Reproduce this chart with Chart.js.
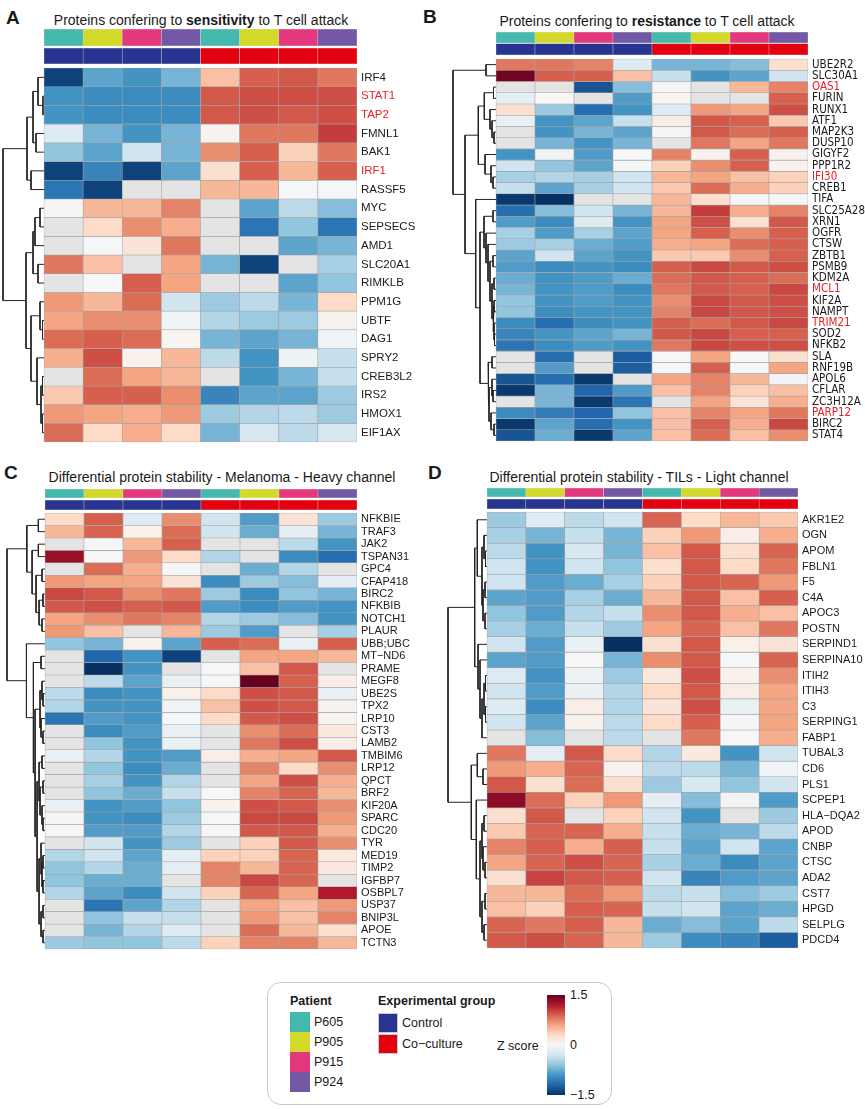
<!DOCTYPE html>
<html>
<head>
<meta charset="utf-8">
<script src="https://cdn.jsdelivr.net/npm/chart.js@4.4.0/dist/chart.umd.min.js"></script>
<style>
  body { margin: 0; width: 865px; height: 1109px; position: relative; overflow: hidden; background: #fff;
         font-family: "Liberation Sans", Arial, sans-serif; color: #1a1a1a; }
  canvas { position: absolute; }
  .letter { position: absolute; font-weight: bold; font-size: 19px; line-height: 1; }
  .title { position: absolute; font-size: 14px; white-space: nowrap; transform: translate(-50%, -50%); }
  #legend { position: absolute; left: 267px; top: 982px; width: 345px; height: 123px;
            border: 1px solid #c8c8c8; border-radius: 14px; box-sizing: border-box; }
  .lg { position: absolute; font-size: 12.5px; white-space: nowrap; line-height: 1; }
  .lg b { font-weight: bold; }
  .sw { position: absolute; width: 20px; height: 20px; box-sizing: border-box; }
</style>
</head>
<body>

<div class="letter" style="left:6px;top:8px">A</div>
<div class="letter" style="left:423px;top:7px">B</div>
<div class="letter" style="left:4px;top:463px">C</div>
<div class="letter" style="left:428px;top:463px">D</div>

<div class="title" style="left:201px;top:20px">Proteins confering to <b>sensitivity</b> to T cell attack</div>
<div class="title" style="left:647px;top:21px">Proteins confering to <b>resistance</b> to T cell attack</div>
<div class="title" style="left:222px;top:477px">Differential protein stability - Melanoma - Heavy channel</div>
<div class="title" style="left:639px;top:477px">Differential protein stability - TILs - Light channel</div>

<canvas id="chartA"></canvas>
<canvas id="chartB"></canvas>
<canvas id="chartC"></canvas>
<canvas id="chartD"></canvas>

<div id="legend"></div>

<script>
// column annotation
const patients = ['P605', 'P905', 'P915', 'P924', 'P605', 'P905', 'P915', 'P924'];
const groups = ['Control', 'Control', 'Control', 'Control', 'Co-culture', 'Co-culture', 'Co-culture', 'Co-culture'];
const patientNames = ['P605', 'P905', 'P915', 'P924'];
const groupNames = ['Control', 'Co-culture'];
const zTicks = [1.5, 0, -1.5];

// A - sensitivity
const genesA = ['IRF4', 'STAT1', 'TAP2', 'FMNL1', 'BAK1', 'IRF1', 'RASSF5', 'MYC', 'SEPSECS', 'AMD1',
  'SLC20A1', 'RIMKLB', 'PPM1G', 'UBTF', 'DAG1', 'SPRY2', 'CREB3L2', 'IRS2', 'HMOX1', 'EIF1AX'];
const redA = ['STAT1', 'TAP2', 'IRF1'];
const zA = [
  [-1.4, -0.8, -0.9, -0.7, 0.45, 0.9, 0.93, 0.8],
  [-0.9, -0.95, -0.95, -0.95, 0.93, 0.97, 0.97, 0.97],
  [-0.9, -0.95, -0.95, -0.95, 0.93, 0.97, 0.93, 0.97],
  [-0.2, -0.7, -0.9, -0.7, 0.05, 0.8, 0.8, 1.05],
  [-0.6, -0.8, -0.3, -0.7, 0.7, 0.9, 0.35, 0.8],
  [-1.4, -1.0, -1.4, -0.8, 0.25, 0.9, 0.5, 0.9],
  [-1.1, -1.4, null, null, 0.5, 0.5, -0.02, -0.02],
  [0.02, 0.5, 0.5, 0.75, null, -0.8, -0.4, -0.65],
  [null, 0.3, 0.7, 0.55, null, -1.1, -0.6, -1.1],
  [null, -0.02, 0.2, 0.8, null, null, -0.8, -0.7],
  [0.8, 0.45, null, 0.6, -0.7, -1.4, null, -0.5],
  [null, 0.0, 0.9, 0.6, null, null, -0.8, -0.6],
  [0.65, 0.5, 0.85, -0.3, -0.55, -0.4, -0.7, 0.3],
  [0.6, 0.7, 0.7, -0.05, -0.45, -0.55, -0.55, 0.05],
  [0.85, 0.9, 0.85, 0.03, -0.7, -0.8, -0.7, -0.05],
  [0.55, 0.97, 0.05, 0.5, -0.4, -0.9, -0.08, -0.35],
  [null, 0.85, 0.6, 0.5, null, -0.9, -0.7, -0.35],
  [0.4, 0.9, 0.9, 0.7, -1.0, -0.8, -0.8, -0.55],
  [0.65, 0.6, 0.55, 0.65, -0.55, -0.45, -0.4, -0.55],
  [0.85, 0.3, 0.55, 0.3, -0.7, -0.25, -0.4, -0.25]
];
// [height, left, right], leaves are row indexes
const treeA = [41, [17, [11, [6, 0, [1, 1, 2]], [8, 3, 4]], [13, 5, 6]],
  [18, [11, [9, [4, 7, 8], 9], [6, 10, 11]],
       [13, [4, 12, [1.5, 13, 14]], [7, 15, [3, [1.5, 16, 17], [1.5, 18, 19]]]]]];

// B - resistance
const genesB = ['UBE2R2', 'SLC30A1', 'OAS1', 'FURIN', 'RUNX1', 'ATF1', 'MAP2K3', 'DUSP10', 'GIGYF2', 'PPP1R2',
  'IFI30', 'CREB1', 'TIFA', 'SLC25A28', 'XRN1', 'OGFR', 'CTSW', 'ZBTB1', 'PSMB9', 'KDM2A', 'MCL1', 'KIF2A',
  'NAMPT', 'TRIM21', 'SOD2', 'NFKB2', 'SLA', 'RNF19B', 'APOL6', 'CFLAR', 'ZC3H12A', 'PARP12', 'BIRC2', 'STAT4'];
const redB = ['OAS1', 'IFI30', 'MCL1', 'TRIM21', 'PARP12'];
const zB = [
  [0.8, 0.8, 0.75, -0.2, -0.7, -0.7, -0.65, 0.25],
  [1.45, 0.9, 0.9, 0.45, -0.35, -0.9, -0.8, -0.3],
  [null, null, -1.3, -0.65, 0.02, null, 0.5, 0.75],
  [-0.15, 0.0, null, -0.85, 0.03, null, null, 0.9],
  [0.25, -0.55, -1.15, -0.9, -0.2, 0.65, 0.6, 0.97],
  [-0.12, -0.9, -0.8, -0.35, 0.1, 0.93, 0.9, 0.4],
  [null, -0.9, -0.7, -0.8, 0.02, 0.93, 0.85, 0.9],
  [null, -0.7, -0.9, -0.7, null, 0.8, 0.6, 0.8],
  [-0.9, -0.05, -0.85, -0.02, 0.75, 0.05, 0.9, 0.05],
  [-0.3, -0.6, -0.8, -0.02, 0.35, 0.7, 0.9, 0.05],
  [-0.5, -0.45, -0.5, -0.3, 0.5, 0.6, 0.45, 0.35],
  [-0.35, -0.8, -0.5, -0.3, 0.4, 0.85, 0.55, 0.35],
  [-1.45, -1.5, null, null, 0.5, 0.25, -0.02, -0.02],
  [-1.15, -0.65, -0.3, -0.7, 0.5, 1.05, 0.55, 0.75],
  [-0.85, -0.95, -0.2, -0.9, 0.6, 0.97, 0.25, 0.93],
  [-0.5, -0.85, -0.5, -0.8, 0.6, 0.9, 0.7, 0.9],
  [-0.55, -0.5, -0.75, -0.85, 0.55, 0.6, 0.85, 0.9],
  [-0.8, -0.3, -0.8, -0.9, 0.4, 0.4, 0.7, 0.9],
  [-0.85, -0.95, -0.9, -0.95, 0.9, 1.0, 0.93, 0.97],
  [-0.75, -0.9, -0.85, -0.75, 0.85, 0.93, 0.9, 0.85],
  [-0.7, -0.9, -0.85, -0.95, 0.8, 0.93, 0.9, 1.0],
  [-0.6, -0.9, -0.85, -0.9, 0.7, 1.0, 0.93, 0.97],
  [-0.6, -0.95, -0.9, -0.9, 0.75, 1.0, 0.93, 0.97],
  [-0.95, -1.15, -0.95, -0.9, 0.9, 0.85, 0.93, 1.0],
  [-1.0, -0.9, -0.8, -0.7, 0.93, 1.0, 0.9, 0.9],
  [-1.1, -0.95, -0.85, -0.9, 0.8, 1.0, 0.97, 0.97],
  [null, -1.15, null, -1.25, -0.02, 0.6, -0.02, 0.25],
  [null, -0.85, null, -1.25, -0.02, 0.9, -0.02, 0.6],
  [-1.3, -1.15, -1.45, null, 0.6, 0.75, 0.5, -0.05],
  [-1.45, -0.7, -1.2, -0.85, 0.45, 0.75, 0.35, 0.45],
  [null, -0.7, -1.45, -1.1, null, 0.6, 0.2, 0.55],
  [-0.95, -1.05, -1.2, -0.6, 0.45, 0.75, 0.6, 0.8],
  [-1.45, -0.8, -1.15, -0.9, 0.45, 0.9, 0.55, 1.0],
  [-1.3, -0.75, -1.45, -0.8, 0.45, 0.85, 0.45, 0.7]
];
const treeB = [43, [10, 0, 1],
  [31, [17.7, [11.7, [2.5, 2, 3], [6, 4, [4, 5, [2, 6, 7]]]], [11, 8, [5, 9, [3, 10, 11]]]],
       [20.3, 12, [16, [12, [3, 13, 14], [10, 15, [8, 16, [6, [3, 17, 18],
                                [4, [2, 19, 20], [3, [2, 21, 22], [2, 23, [1.5, 24, 25]]]]]]]],
                        [8, [4, 26, 27], [7, [4, 28, [3, 29, 30]], [5, 31, [2, 32, 33]]]]]]]];

// C - melanoma heavy channel
const genesC = ['NFKBIE', 'TRAF3', 'JAK2', 'TSPAN31', 'GPC4', 'CFAP418', 'BIRC2', 'NFKBIB', 'NOTCH1', 'PLAUR',
  'UBB;UBC', 'MT\u2212ND6', 'PRAME', 'MEGF8', 'UBE2S', 'TPX2', 'LRP10', 'CST3', 'LAMB2', 'TMBIM6', 'LRP12',
  'QPCT', 'BRF2', 'KIF20A', 'SPARC', 'CDC20', 'TYR', 'MED19', 'TIMP2', 'IGFBP7', 'OSBPL7', 'USP37', 'BNIP3L',
  'APOE', 'TCTN3'];
const redC = [];
const zC = [
  [0.3, 0.9, -0.2, 0.7, -0.3, -0.85, 0.2, -0.55],
  [0.5, 0.88, 0.08, 0.85, -0.3, -0.75, -0.15, -0.7],
  [null, -0.02, 0.5, 0.9, null, null, -0.4, -0.9],
  [1.3, 0.0, 0.65, 0.3, -0.45, null, -0.95, -1.15],
  [null, 0.85, 0.55, -0.02, null, -0.75, -0.45, null],
  [0.65, 0.6, 0.6, 0.2, -0.95, -0.55, -0.65, -0.15],
  [1.0, 0.93, 0.7, 0.8, -0.55, -0.95, -0.6, -0.7],
  [0.93, 0.97, 0.9, 0.93, -0.85, -0.95, -0.85, -0.9],
  [0.6, 0.7, 0.8, 0.75, -0.45, -0.55, -0.65, -0.9],
  [0.65, 0.45, null, 0.5, -0.55, -0.85, null, -0.5],
  [-0.6, -0.7, 0.05, -0.8, 0.9, 0.85, -0.1, 0.9],
  [null, -1.2, -0.9, -1.4, null, 0.6, 0.6, 0.5],
  [null, -1.5, -0.9, null, -0.02, 0.45, 0.93, null],
  [null, -0.4, -0.8, -0.1, -0.02, 1.5, 0.9, 0.1],
  [-0.4, -0.95, -0.9, 0.08, 0.3, 0.97, 0.93, -0.1],
  [-0.45, -0.9, -0.9, -0.05, 0.45, 0.97, 0.93, 0.05],
  [-1.1, -0.85, -0.9, -0.02, 0.3, 0.93, 0.97, 0.02],
  [null, -0.95, -0.85, -0.12, null, 0.7, 0.85, 0.15],
  [null, -0.6, -0.9, -0.1, null, 0.8, 0.97, 0.1],
  [-0.1, -0.45, -0.9, -0.85, 0.1, 0.55, 0.6, 0.93],
  [null, -0.6, -0.95, -0.75, null, 0.75, 0.3, 0.7],
  [null, -0.5, -0.9, -0.45, null, 0.6, 0.97, 0.55],
  [null, -0.6, -0.75, -0.35, -0.02, 0.75, 0.88, 0.5],
  [-0.1, -0.9, -0.85, -0.6, 0.05, 0.97, 0.93, 0.7],
  [0.02, -0.9, -0.95, -0.55, -0.02, 1.0, 1.0, 0.65],
  [-0.01, -0.85, -0.85, -0.45, -0.02, 0.93, 0.93, 0.55],
  [null, -0.3, -0.9, -0.55, null, 0.35, 0.93, 0.7],
  [-0.45, -0.3, -0.8, -0.15, 0.35, 0.35, 0.88, 0.15],
  [-0.6, -0.45, -0.75, -0.15, 0.75, 0.5, 0.88, 0.15],
  [-0.6, -0.75, -0.75, null, 0.75, 1.0, 0.88, null],
  [-0.45, -0.8, -0.95, -0.3, 0.35, 0.88, 0.6, 1.2],
  [null, -1.1, -0.8, -0.45, null, 0.6, 0.45, 0.65],
  [null, -0.6, -0.35, -0.35, null, 0.65, 0.45, 0.75],
  [null, -0.7, -0.45, -0.2, null, 0.85, 0.5, 0.25],
  [-0.55, -0.6, -0.6, -0.4, 0.35, 0.75, 0.75, 0.5]
];
const treeC = [38.3,
  [18.3, [6.7, 0, 1], [13, [6.7, 2, 3], [9, [3, 4, 5], [6, [2, 6, 7], [3, 8, 9]]]]],
  [18.7, 10, [11.7, [4, 11, 12],
    [10, [5, [3, 13, [2, 14, 15]], [4, 16, [2, 17, 18]]],
         [8, [6, [3, 19, 20], [5, [2, 21, 22], [3, 23, [2, 24, 25]]]],
             [6, [4, 26, [3, [2, 27, 28], [2, 29, 30]]], [4, [2, 31, 32], [2, 33, 34]]]]]]]];

// D - TILs light channel
const genesD = ['AKR1E2', 'OGN', 'APOM', 'FBLN1', 'F5', 'C4A', 'APOC3', 'POSTN', 'SERPIND1', 'SERPINA10',
  'ITIH2', 'ITIH3', 'C3', 'SERPING1', 'FABP1', 'TUBAL3', 'CD6', 'PLS1', 'SCPEP1', 'HLA\u2212DQA2', 'APOD',
  'CNBP', 'CTSC', 'ADA2', 'CST7', 'HPGD', 'SELPLG', 'PDCD4'];
const redD = [];
const zD = [
  [-0.55, -0.2, -0.4, -0.3, 0.88, 0.3, 0.5, 0.4],
  [-0.5, -0.7, -0.35, -0.7, 0.35, 0.65, 0.1, 0.55],
  [-0.4, -0.9, -0.25, -0.7, 0.45, 0.93, 0.25, 0.88],
  [-0.3, -0.9, -0.3, -0.6, 0.25, 0.93, 0.3, 0.8],
  [-0.3, -0.85, -0.75, -0.5, 0.35, 0.93, 0.88, 0.65],
  [-0.8, -0.85, -0.5, -0.75, 0.5, 0.93, 0.45, 0.9],
  [-0.6, -0.85, -0.45, -0.35, 0.7, 0.93, 0.55, 0.45],
  [-0.5, -0.75, -0.35, -0.55, 0.6, 0.88, 0.45, 0.8],
  [-0.3, -0.85, -0.1, -1.5, 0.25, 0.93, 0.08, 0.2],
  [-0.8, -0.85, -0.01, -0.7, 0.7, 0.93, -0.02, 0.88],
  [-0.2, -0.9, -0.08, -0.55, 0.15, 0.97, 0.05, 0.7],
  [-0.3, -0.85, -0.1, -0.45, 0.3, 0.93, 0.1, 0.6],
  [-0.2, -0.95, 0.1, -0.45, 0.2, 0.97, -0.1, 0.6],
  [-0.3, -0.8, 0.05, -0.4, 0.3, 0.9, -0.03, 0.6],
  [null, -0.65, null, -0.4, null, 0.8, -0.01, 0.55],
  [0.8, -0.15, 0.93, 0.3, -0.45, 0.15, -0.9, -0.3],
  [0.65, 0.55, 0.88, 0.05, -0.4, -0.4, -0.7, -0.05],
  [0.93, 0.25, 0.85, 0.25, -0.55, -0.25, -0.6, -0.3],
  [1.35, 0.85, 0.35, 0.65, -0.15, -0.65, -0.05, -0.85],
  [0.25, 0.93, null, 0.35, -0.3, -0.9, null, -0.55],
  [0.4, 0.88, 0.88, 0.55, -0.35, -0.75, -0.7, -0.4],
  [0.75, 0.9, 0.55, 0.9, -0.35, -0.8, -0.3, -0.8],
  [0.6, 0.88, 0.97, 0.88, -0.5, -0.75, -0.95, -0.8],
  [0.25, 1.02, 0.93, 0.9, -0.3, -1.0, -0.85, -0.8],
  [0.5, 0.5, 0.85, 0.65, -0.4, -0.35, -0.65, -0.55],
  [0.45, 0.35, 0.9, 0.88, -0.35, -0.3, -0.8, -0.75],
  [0.88, 0.8, 0.9, 0.5, -0.75, -0.65, -0.8, -0.4],
  [0.93, 0.97, 0.88, 0.5, -0.55, -0.95, -1.0, -1.25]
];
const treeD = [39,
  [12.3, [9.7, 0, [5, [3, 1, [1.5, 2, 3]], [4, [2, 4, 5], [2, 6, 7]]]],
         [9, 8, [7, 9, [5, [3, [1.5, 10, 11], [1.5, 12, 13]], 14]]]],
  [15.7, [9.7, 15, [4, 16, 17]],
         [10.7, 18, [7, [5, [3, 19, 20], [4, 21, [2, 22, 23]]], [5, [2, 24, 25], [3, 26, 27]]]]]];

// colours
const patientColors = { P605: '#45b9ad', P905: '#d3d92b', P915: '#e3377e', P924: '#7359a5' };
const groupColors = { 'Control': '#283590', 'Co-culture': '#e3000f' };
const naColor = '#e4e4e4';
const redText = '#e8202a';
const zStops = ['#053061', '#2166ac', '#4393c3', '#92c5de', '#d1e5f0', '#f7f7f7',
  '#fddbc7', '#f4a582', '#d6604d', '#b2182b', '#67001f'];

function rgb(hex) {
  return [1, 3, 5].map(i => parseInt(hex.substr(i, 2), 16));
}

function zColor(v) {
  if (v === null) return naColor;
  const t = Math.max(0, Math.min(1, (v + 1.5) / 3)) * (zStops.length - 1);
  const i = Math.min(Math.floor(t), zStops.length - 2);
  const f = t - i;
  const a = rgb(zStops[i]), b = rgb(zStops[i + 1]);
  return 'rgb(' + a.map((c, k) => Math.round(c + (b[k] - c) * f)).join(',') + ')';
}

/**
 * one heatmap panel: annotation rows, cells, dendrogram and row labels
 */
function drawPanel(id, genes, z, tree, red, L) {
  const [cl, ct, cw, ch] = L.canvas;
  const cell = (L.right - L.left) / 8;
  const row = (L.bottom - L.top) / genes.length;
  const rowAt = px => (px - L.top) / row;
  const canvas = document.getElementById(id);
  canvas.width = cw;
  canvas.height = ch;
  canvas.style.left = cl + 'px';
  canvas.style.top = ct + 'px';

  const cellBar = (y0, y1, colors, border, bw) => ({
    type: 'bar',
    data: colors.map((_, c) => ({ x: c + 0.5, y: [y0, y1] })),
    backgroundColor: colors,
    borderColor: border,
    borderWidth: bw,
    borderSkipped: false,
    grouped: false,
    barPercentage: 1,
    categoryPercentage: 1
  });

  const datasets = [];
  datasets.push(cellBar(rowAt(L.pat[0]), rowAt(L.pat[1]), patients.map(p => patientColors[p]), '#d6d6d6', 0.5));
  datasets.push(cellBar(rowAt(L.grp[0]), rowAt(L.grp[1]), groups.map(g => groupColors[g]), '#d6d6d6', 0.5));
  z.forEach((vals, i) => datasets.push(cellBar(i, i + 1, vals.map(zColor), '#a4a4a4', 0.6)));

  // dendrogram: one bracket per merge
  const hx = (L.left - L.dendro) / cell / tree[0];
  function walk(node) {
    if (typeof node === 'number') return { x: 0, y: node + 0.5 };
    const a = walk(node[1]), b = walk(node[2]);
    const x = -node[0] * hx;
    datasets.push({
      type: 'scatter',
      data: [{ x: a.x, y: a.y }, { x: x, y: a.y }, { x: x, y: b.y }, { x: b.x, y: b.y }],
      showLine: true,
      borderColor: '#222',
      borderWidth: 1,
      pointRadius: 0,
      tension: 0,
      clip: false
    });
    return { x: x, y: (a.y + b.y) / 2 };
  }
  walk(tree);

  const labelW = cw - (L.right - cl);
  new Chart(canvas, {
    type: 'bar',
    data: { datasets: datasets },
    options: {
      responsive: false,
      animation: false,
      events: [],
      layout: { padding: 0 },
      plugins: { legend: { display: false }, tooltip: { enabled: false } },
      scales: {
        x: {
          type: 'linear',
          display: false,
          min: (cl - L.left) / cell,
          max: 8,
          afterBuildTicks: s => { s.ticks = []; }
        },
        y: {
          type: 'linear',
          position: 'right',
          reverse: true,
          min: rowAt(ct),
          max: rowAt(ct + ch),
          afterBuildTicks: s => { s.ticks = genes.map((g, i) => ({ value: i + 0.5 })); },
          afterFit: s => { s.width = labelW; s.paddingTop = 0; s.paddingBottom = 0; },
          grid: { display: false, drawTicks: false },
          border: { display: false },
          ticks: {
            autoSkip: false,
            padding: 4,
            callback: (v, i) => genes[i],
            color: ctx => red.includes(genes[ctx.index]) ? redText : '#1a1a1a',
            font: { family: L.font, size: L.size }
          }
        }
      }
    }
  });
}

const sans = '"Liberation Sans", Arial, sans-serif';
const narrow = '"Liberation Sans Narrow", "Arial Narrow", "DejaVu Sans Condensed", sans-serif';

drawPanel('chartA', genesA, zA, treeA, redA, {
  left: 44, right: 357, top: 68, bottom: 442, dendro: 3, pat: [29, 46], grp: [48, 64],
  canvas: [0, 24, 430, 430], font: sans, size: 11.5
});
drawPanel('chartB', genesB, zB, treeB, redB, {
  left: 496, right: 808, top: 59, bottom: 441, dendro: 453, pat: [32, 43], grp: [43.5, 55],
  canvas: [440, 28, 425, 424], font: narrow, size: 11.5
});
drawPanel('chartC', genesC, zC, treeC, redC, {
  left: 45, right: 357, top: 513, bottom: 949, dendro: 7, pat: [489, 498], grp: [500, 510],
  canvas: [0, 484, 432, 476], font: sans, size: 11
});
drawPanel('chartD', genesD, zD, treeD, redD, {
  left: 487, right: 798, top: 512, bottom: 948, dendro: 448, pat: [488, 497], grp: [499, 509],
  canvas: [440, 483, 425, 476], font: sans, size: 11
});

// legend box
const legend = document.getElementById('legend');
function add(html, cls, style) {
  const d = document.createElement('div');
  d.className = cls;
  d.innerHTML = html;
  Object.assign(d.style, style);
  legend.appendChild(d);
  return d;
}
const ox = 267, oy = 982;
add('<b>Patient</b>', 'lg', { left: (289 - ox) + 'px', top: (994 - oy) + 'px' });
patientNames.forEach((p, i) => {
  add('', 'sw', { left: (289 - ox) + 'px', top: (1011 + i * 20 - oy) + 'px', background: patientColors[p] });
  add(p, 'lg', { left: (313 - ox) + 'px', top: (1015 + i * 20 - oy) + 'px' });
});
add('<b>Experimental group</b>', 'lg', { left: (377 - ox) + 'px', top: (994 - oy) + 'px' });
groupNames.forEach((g, i) => {
  add('', 'sw', { left: (377 - ox) + 'px', top: (1012 + i * 20.5 - oy) + 'px', background: groupColors[g],
                  border: '1px solid #c9c9d6' });
  add(g.replace('-', '\u2212'), 'lg', { left: (401 - ox) + 'px', top: (1016 + i * 20.5 - oy) + 'px' });
});
add('Z score', 'lg', { left: (496 - ox) + 'px', top: (1039 - oy) + 'px' });
add('', 'sw', { left: (546 - ox) + 'px', top: (994 - oy) + 'px', width: '18px', height: '100px',
  background: 'linear-gradient(to top, ' + zStops.join(', ') + ')' });
zTicks.forEach(t => {
  const y = 994 + (1.5 - t) / 3 * 100;
  add(String(t).replace('-', '\u2212'), 'lg', { left: (569 - ox) + 'px', top: (y - 6 - oy) + 'px' });
});
</script>
</body>
</html>
